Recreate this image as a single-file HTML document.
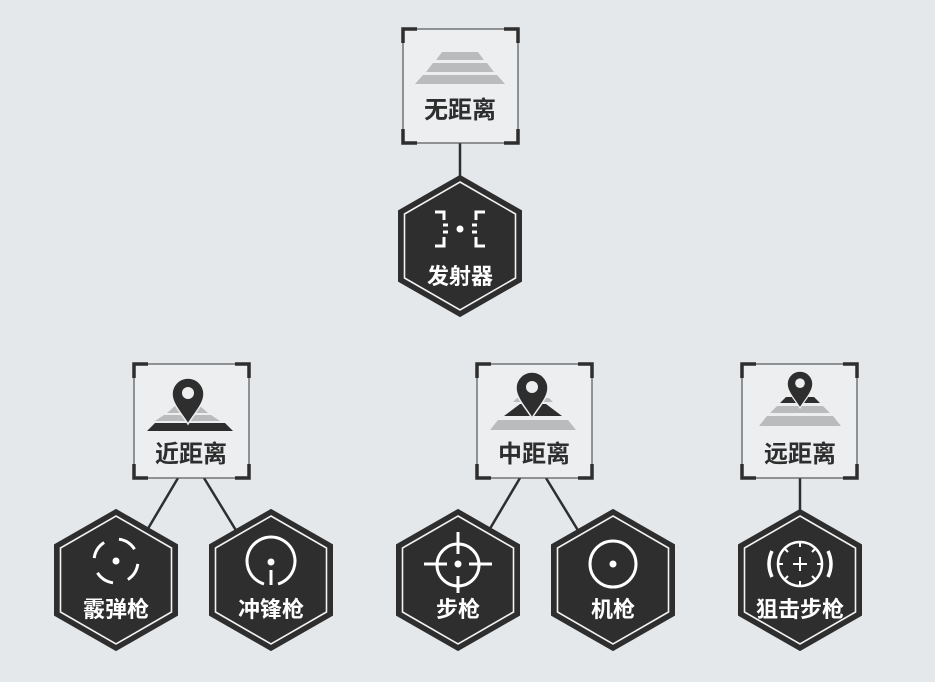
<!DOCTYPE html>
<html><head><meta charset="utf-8"><style>
html,body{margin:0;padding:0;background:#e5e8eb;}
svg{display:block}
text{font-family:"Liberation Sans","Noto Sans CJK SC",sans-serif;font-weight:bold;text-anchor:middle}
</style></head><body>
<svg width="935" height="682" viewBox="0 0 935 682" xmlns="http://www.w3.org/2000/svg">
<defs>
<g id="hex">
<polygon points="0,-70 61,-35 61,35 0,70 -61,35 -61,-35" fill="#2e2e2e" stroke="#2e2e2e" stroke-width="2"/>
<polygon points="0,-64 55.5,-32 55.5,32 0,64 -55.5,32 -55.5,-32" fill="#2e2e2e" stroke="#f2f2f2" stroke-width="1.6"/>
</g>
<g id="box">
<rect x="0" y="0" width="115" height="114" fill="#eceef0" stroke="#555" stroke-width="1.2"/>
<path d="M0,14 V0 H14 M101,0 H115 V14 M115,100 V114 H101 M14,114 H0 V100" fill="none" stroke="#2e2e2e" stroke-width="3.5"/>
</g>
<g id="pin">
<path d="M0,30 C-6,20 -16,10 -16,0 A16,16 0 1 1 16,0 C16,10 6,20 0,30 Z" fill="#2e2e2e" stroke="#eceef0" stroke-width="1.5"/>
<circle cx="0" cy="-1" r="6" fill="#eceef0"/>
</g>
</defs>
<g stroke="#2e2e2e" stroke-width="2.5">
<line x1="460" y1="143" x2="460" y2="180"/>
<line x1="178" y1="478" x2="146" y2="532"/>
<line x1="204" y1="478" x2="237" y2="532"/>
<line x1="520" y1="478" x2="488" y2="532"/>
<line x1="546" y1="478" x2="579" y2="532"/>
<line x1="800" y1="478" x2="800" y2="516"/>
</g>
<use href="#box" x="403" y="29"/>
<use href="#box" x="134" y="364"/>
<use href="#box" x="477" y="364"/>
<use href="#box" x="742" y="364"/>
<g fill="#b9bbbd">
<polygon points="442,52 478,52 484,60 436,60"/>
<polygon points="433,63 487,63 494,72 426,72"/>
<polygon points="423,75 497,75 505,84 415,84"/>
</g>
<text x="460" y="118" font-size="24" fill="#2e2e2e">无距离</text>
<g fill="#b9bbbd">
<polygon points="175,406 200,406 208,413 167,413"/>
<polygon points="164,415 211,415 220,421 155,421"/>
</g>
<polygon points="155,423 225,423 233,431 147,431" fill="#2e2e2e"/>
<use href="#pin" x="188" y="394"/>
<text x="191" y="462" font-size="24" fill="#2e2e2e">近距离</text>
<polygon points="520,404 546,404 562,416 504,416" fill="#2e2e2e"/>
<polygon points="498,420 568,420 576,430 490,430" fill="#b9bbbd"/>
<polygon points="517,398 549,398 553,402 513,402" fill="#b9bbbd"/>
<use href="#pin" x="532" y="388"/>
<text x="534" y="462" font-size="24" fill="#2e2e2e">中距离</text>
<polygon points="786,397 814,397 820,403 780,403" fill="#2e2e2e"/>
<polygon points="777,406 823,406 830,413 770,413" fill="#b9bbbd"/>
<polygon points="767,416 833,416 841,426 759,426" fill="#b9bbbd"/>
<g transform="translate(800,384) scale(0.8)"><use href="#pin"/></g>
<text x="800" y="462" font-size="24" fill="#2e2e2e">远距离</text>
<use href="#hex" x="460" y="246"/>
<use href="#hex" x="116" y="580"/>
<use href="#hex" x="271" y="580"/>
<use href="#hex" x="458" y="580"/>
<use href="#hex" x="613" y="580"/>
<use href="#hex" x="800" y="580"/>
<g fill="none" stroke="#fff" stroke-width="3">
<path d="M435,212 H444 V220 M443,225 H448 M443,232 H448 M444,237 V246 H435"/>
<path d="M485,212 H476 V220 M477,225 H472 M477,232 H472 M476,237 V246 H485"/>
</g>
<circle cx="460" cy="229" r="3.5" fill="#fff"/>
<text x="460" y="284" font-size="22" fill="#fff">发射器</text>
<circle cx="116" cy="561" r="22" fill="none" stroke="#fff" stroke-width="3" stroke-dasharray="19 15.5" stroke-dashoffset="-3"/>
<circle cx="116" cy="561" r="3.5" fill="#fff"/>
<text x="116" y="617" font-size="22" fill="#fff">霰弹枪</text>
<path d="M264,584 A24,24 0 1 1 278,584" fill="none" stroke="#fff" stroke-width="3"/>
<circle cx="271" cy="562" r="3.5" fill="#fff"/>
<line x1="271" y1="570" x2="271" y2="585" stroke="#fff" stroke-width="3"/>
<text x="271" y="617" font-size="22" fill="#fff">冲锋枪</text>
<g fill="none" stroke="#fff" stroke-width="3">
<circle cx="458" cy="565" r="21"/>
<line x1="458" y1="532" x2="458" y2="554"/>
<line x1="458" y1="576" x2="458" y2="593"/>
<line x1="424" y1="564" x2="447" y2="564"/>
<line x1="469" y1="564" x2="492" y2="564"/>
</g>
<circle cx="458" cy="564" r="3.5" fill="#fff"/>
<text x="458" y="617" font-size="22" fill="#fff">步枪</text>
<circle cx="613" cy="564" r="23" fill="none" stroke="#fff" stroke-width="3"/>
<circle cx="613" cy="564" r="3.5" fill="#fff"/>
<text x="613" y="617" font-size="22" fill="#fff">机枪</text>
<g fill="none" stroke="#fff" stroke-width="2.5">
<circle cx="800" cy="564" r="22"/>
<path d="M772,551 Q766,564 772,577 M828,551 Q834,564 828,577" stroke-width="3.5"/>
<line x1="800" y1="557" x2="800" y2="571" stroke-width="2"/>
<line x1="793" y1="564" x2="807" y2="564" stroke-width="2"/>
<path d="M800,542 V547 M800,581 V586 M778,564 H783 M817,564 H822 M785,549 L788,552 M815,549 L812,552 M785,579 L788,576 M815,579 L812,576" stroke-width="2"/>
</g>
<text x="800" y="617" font-size="22" fill="#fff">狙击步枪</text>
</svg>
</body></html>
